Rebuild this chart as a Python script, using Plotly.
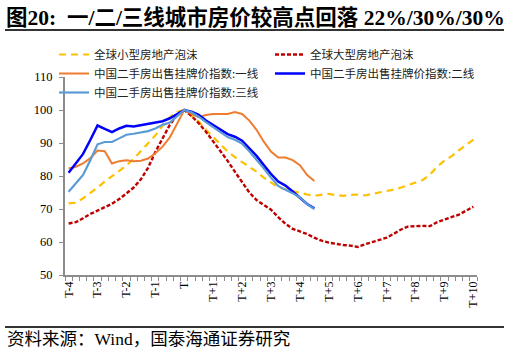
import plotly.graph_objects as go

# ---------------- data (quarterly, index 0 = T-4, 16 = T, 56 = T+10) ----------------
tick_labels = ["T-4", "T-3", "T-2", "T-1", "T", "T+1", "T+2", "T+3", "T+4",
               "T+5", "T+6", "T+7", "T+8", "T+9", "T+10"]

small_bubble = [71.7, 71.9, 73.2, 74.8, 76.5, 78.3, 80.0, 81.5, 83.2, 85.2,
                87.5, 90.0, 92.3, 95.3, 97.8, 99.4, 100.0, 98.2, 96.5, 94.0,
                91.7, 89.4, 87.4, 85.7, 84.3, 82.8, 81.3, 79.5, 78.0, 76.6,
                76.0, 75.4, 74.9, 74.4, 74.0, 74.3, 74.6, 74.2, 74.0, 74.3,
                74.4, 74.1, 74.5, 75.1, 75.5, 75.9, 76.5, 77.2, 78.0, 78.8,
                80.5, 82.8, 84.7, 86.0, 87.8, 89.3, 91.0]

large_bubble = [65.6, 66.0, 67.2, 68.5, 69.5, 70.5, 71.6, 73.0, 74.7, 76.5,
                79.0, 82.5, 87.3, 91.6, 95.5, 98.5, 100.0, 98.2, 96.0, 93.4,
                90.5, 87.5, 84.6, 81.3, 78.0, 75.0, 72.7, 71.2, 69.8, 67.5,
                65.5, 64.0, 63.2, 62.4, 61.3, 60.4, 59.8, 59.4, 59.1, 58.9,
                58.5, 59.3, 59.9, 60.5, 61.3, 62.5, 63.8, 64.7, 64.9, 64.9,
                64.8, 66.0, 66.8, 67.6, 68.3, 69.5, 70.7]

tier1 = [82.3, 82.8, 83.8, 85.4, 87.7, 87.5, 83.8, 84.5, 84.8, 84.5,
         84.6, 85.3, 86.9, 88.9, 91.7, 95.8, 100.0, 98.8, 97.8, 98.5,
         98.8, 98.8, 98.8, 99.4, 98.8, 96.8, 94.0, 90.4, 87.4, 85.6,
         85.6, 84.8, 83.3, 80.3, 78.5]

tier2 = [81.0, 83.8, 86.7, 90.9, 95.3, 94.3, 93.3, 94.4, 95.2, 95.0,
         95.4, 95.8, 96.3, 96.6, 97.5, 98.8, 100.0, 99.5, 98.5, 96.8,
         95.5, 94.0, 92.7, 91.9, 90.7, 88.4, 86.1, 83.3, 80.6, 78.3,
         77.1, 75.3, 73.5, 71.5, 70.2]

tier3 = [75.2, 77.8, 80.3, 84.8, 89.6, 90.3, 90.3, 91.4, 92.5, 92.8,
         93.2, 93.6, 94.4, 95.5, 96.2, 98.0, 100.0, 99.3, 98.0, 96.3,
         94.8, 93.3, 91.8, 91.0, 89.8, 87.5, 85.0, 82.3, 79.5, 77.0,
         75.8, 74.8, 73.5, 71.5, 70.0]

names = ["全球小型房地产泡沫", "全球大型房地产泡沫",
         "中国二手房出售挂牌价指数:一线", "中国二手房出售挂牌价指数:二线",
         "中国二手房出售挂牌价指数:三线"]

title_text = "图20:  一/二/三线城市房价较高点回落 22%/30%/30%"
source_text = "资料来源：Wind，国泰海通证券研究"

# ---------------- figure ----------------
SERIF = "Liberation Serif, Times New Roman, Noto Sans CJK SC, serif"
CJK = "Noto Sans CJK SC, sans-serif"

fig = go.Figure()

def xs(vals):
    return list(range(len(vals)))

fig.add_trace(go.Scatter(x=xs(small_bubble), y=small_bubble, mode="lines", name=names[0],
                         line=dict(color="#FFC000", width=2.2, dash="7px,5px")))
fig.add_trace(go.Scatter(x=xs(large_bubble), y=large_bubble, mode="lines", name=names[1],
                         line=dict(color="#C00000", width=2.4, dash="4px,2px")))
fig.add_trace(go.Scatter(x=xs(tier1), y=tier1, mode="lines", name=names[2],
                         line=dict(color="#ED7D31", width=2)))
fig.add_trace(go.Scatter(x=xs(tier2), y=tier2, mode="lines", name=names[3],
                         line=dict(color="#0000FF", width=2.5)))
fig.add_trace(go.Scatter(x=xs(tier3), y=tier3, mode="lines", name=names[4],
                         line=dict(color="#5B9BD5", width=2.2)))

L, R, T, B = 65, 32, 77, 77
W, H = 509, 352
pw, ph = W - L - R, H - T - B

def px2paper_x(px):
    return (px - L) / pw

def px2paper_y(py):
    return (H - B - py) / ph

fig.update_layout(
    width=W, height=H,
    margin=dict(l=L, r=R, t=T, b=B, autoexpand=False),
    paper_bgcolor="white", plot_bgcolor="white",
    showlegend=True,
    legend=dict(
        orientation="h",
        x=px2paper_x(54), xanchor="left",
        y=px2paper_y(40), yanchor="top",
        entrywidth=171, entrywidthmode="pixels",
        font=dict(family=CJK, size=11.5, color="#222"),
        bgcolor="rgba(0,0,0,0)",
        traceorder="normal",
    ),
    title=dict(text="<b>" + title_text + "</b>",
               x=6 / W, xanchor="left", y=1 - 17 / H, yanchor="middle",
               font=dict(family=SERIF, size=21.5, color="black")),
    xaxis=dict(
        range=[-0.5, 56.5], showgrid=False, zeroline=False,
        showline=True, linecolor="#8C8C8C", linewidth=1.5,
        tickmode="array", tickvals=list(range(0, 57, 4)), ticktext=tick_labels,
        ticks="", tickangle=-90,
        tickfont=dict(family=SERIF, size=12, color="black"),
        minor=dict(tickmode="array", tickvals=[k - 0.5 for k in range(58)],
                   ticks="outside", ticklen=4, tickcolor="#8C8C8C", tickwidth=1),
    ),
    yaxis=dict(
        range=[50, 110], showgrid=False, zeroline=False,
        showline=True, linecolor="#8C8C8C", linewidth=2,
        tickmode="array", tickvals=[50, 60, 70, 80, 90, 100, 110],
        ticks="outside", ticklen=4, tickcolor="#8C8C8C", tickwidth=1.2,
        ticklabelstandoff=4,
        tickfont=dict(family=SERIF, size=12.5, color="black"),
    ),
    shapes=[
        dict(type="line", xref="paper", yref="paper",
             x0=px2paper_x(5), x1=px2paper_x(504), y0=px2paper_y(30), y1=px2paper_y(30),
             line=dict(color="#333333", width=2)),
        dict(type="line", xref="paper", yref="paper",
             x0=px2paper_x(5), x1=px2paper_x(504), y0=px2paper_y(327), y1=px2paper_y(327),
             line=dict(color="#333333", width=2)),
    ],
    annotations=[
        dict(text=source_text, xref="paper", yref="paper",
             x=px2paper_x(5), y=px2paper_y(339), xanchor="left", yanchor="middle",
             showarrow=False, font=dict(family=SERIF, size=17.5, color="black")),
    ],
)

fig.write_html("out.html")
